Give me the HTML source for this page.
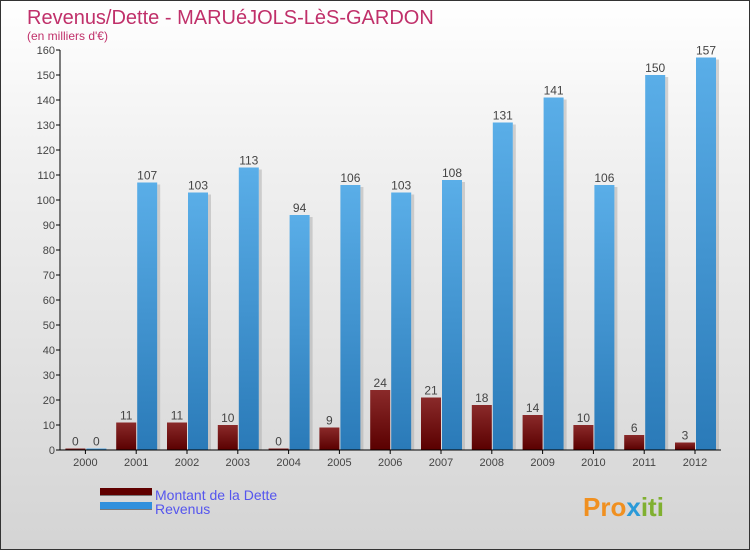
<!DOCTYPE html>
<html><head><meta charset="utf-8"><style>
body{margin:0}
#c{position:relative;width:748px;height:548px;border:1px solid #333;background:linear-gradient(#ffffff,#f0f0f0 30%,#d4d4d4 100%);font-family:"Liberation Sans",sans-serif;overflow:hidden}
</style></head><body>
<div id="c">
<svg width="748" height="548" id="svg">
<text x="26" y="23" font-size="20" fill="#c0306a">Revenus/Dette - MARUéJOLS-LèS-GARDON</text>
<text x="26" y="39" font-size="12" fill="#c0306a">(en milliers d'€)</text>
<g id="g"></g>
<rect x="99" y="488" width="52" height="7" fill="#777"/>
<rect x="99" y="487" width="52" height="7" fill="#600000"/>
<rect x="99" y="502" width="52" height="7" fill="#777"/>
<rect x="99" y="501" width="52" height="7" fill="#3090dd"/>
<text x="154" y="499" font-size="14" fill="#5555ee">Montant de la Dette</text>
<text x="154" y="513" font-size="14" fill="#5555ee">Revenus</text>
<text x="582" y="515" font-size="26" font-weight="bold" fill="#f09020">Pro<tspan fill="#2a9ad8">x</tspan><tspan fill="#80b030">iti</tspan></text>
</svg>
</div>
<script>
const years=["2000","2001","2002","2003","2004","2005","2006","2007","2008","2009","2010","2011","2012"];
const dette=[0,11,11,10,0,9,24,21,18,14,10,6,3];
const revenus=[0,107,103,113,94,106,103,108,131,141,106,150,157];
const yTicks=[0,10,20,30,40,50,60,70,80,90,100,110,120,130,140,150,160];
const NS="http://www.w3.org/2000/svg";
const g=document.getElementById('g');
const X0=59,Y0=449,step=50.8;
const y=v=>Y0-v*2.5;
const cx=i=>X0+25.4+i*step;
function el(t,a){const e=document.createElementNS(NS,t);for(const k in a)e.setAttribute(k,a[k]);g.appendChild(e);return e;}
const defs=el('defs',{});
defs.innerHTML='<linearGradient id="gd" x1="0" y1="0" x2="0" y2="1"><stop offset="0" stop-color="#8a2a2a"/><stop offset="1" stop-color="#5a0000"/></linearGradient><linearGradient id="gr" x1="0" y1="0" x2="0" y2="1"><stop offset="0" stop-color="#5aaee8"/><stop offset="1" stop-color="#2a7ab8"/></linearGradient>';
yTicks.forEach(t=>{
 const l=el('line',{x1:X0-4,x2:X0,y1:y(t),y2:y(t),stroke:'#000'});
 
 
 const tx=el('text',{x:X0-5,y:y(t)+4,'font-size':11,'text-anchor':'end',fill:'#444'});
 tx.textContent=t;
 
 
});
years.forEach((yr,i)=>{
 const c=cx(i);
 const hd=Math.max(dette[i]*2.5,1.5),hr=Math.max(revenus[i]*2.5,1.5);
 const bd=el('rect',{x:c-20,y:Y0-hd,width:20,height:hd,fill:'url(#gd)'});
 
 
 el('rect',{x:c+21,y:Y0-hr+2,width:3,height:hr-2,fill:'#aaa',opacity:0.5});
 const br=el('rect',{x:c+1,y:Y0-hr,width:20,height:hr,fill:'url(#gr)'});
 
 
 const t1=el('text',{x:c-10,y:Y0-hd-3,'font-size':12,'text-anchor':'middle',fill:'#444'});
 t1.textContent=dette[i];
 
 
 if(revenus[i]>0||i===0){const t2=el('text',{x:c+11,y:Y0-hr-3,'font-size':12,'text-anchor':'middle',fill:'#444'});
 t2.textContent=revenus[i];
 
 }
 el('line',{x1:c,x2:c,y1:Y0,y2:Y0+4,stroke:'#000'});
 const xl=el('text',{x:c,y:Y0+16,'font-size':11,'text-anchor':'middle',fill:'#444'});
 xl.textContent=yr;
 
 
});
const ax=el('line',{x1:X0,x2:X0,y1:y(160),y2:Y0,stroke:'#000'});


const axx=el('line',{x1:X0,x2:720,y1:Y0,y2:Y0,stroke:'#000'});


</script>
</body></html>
